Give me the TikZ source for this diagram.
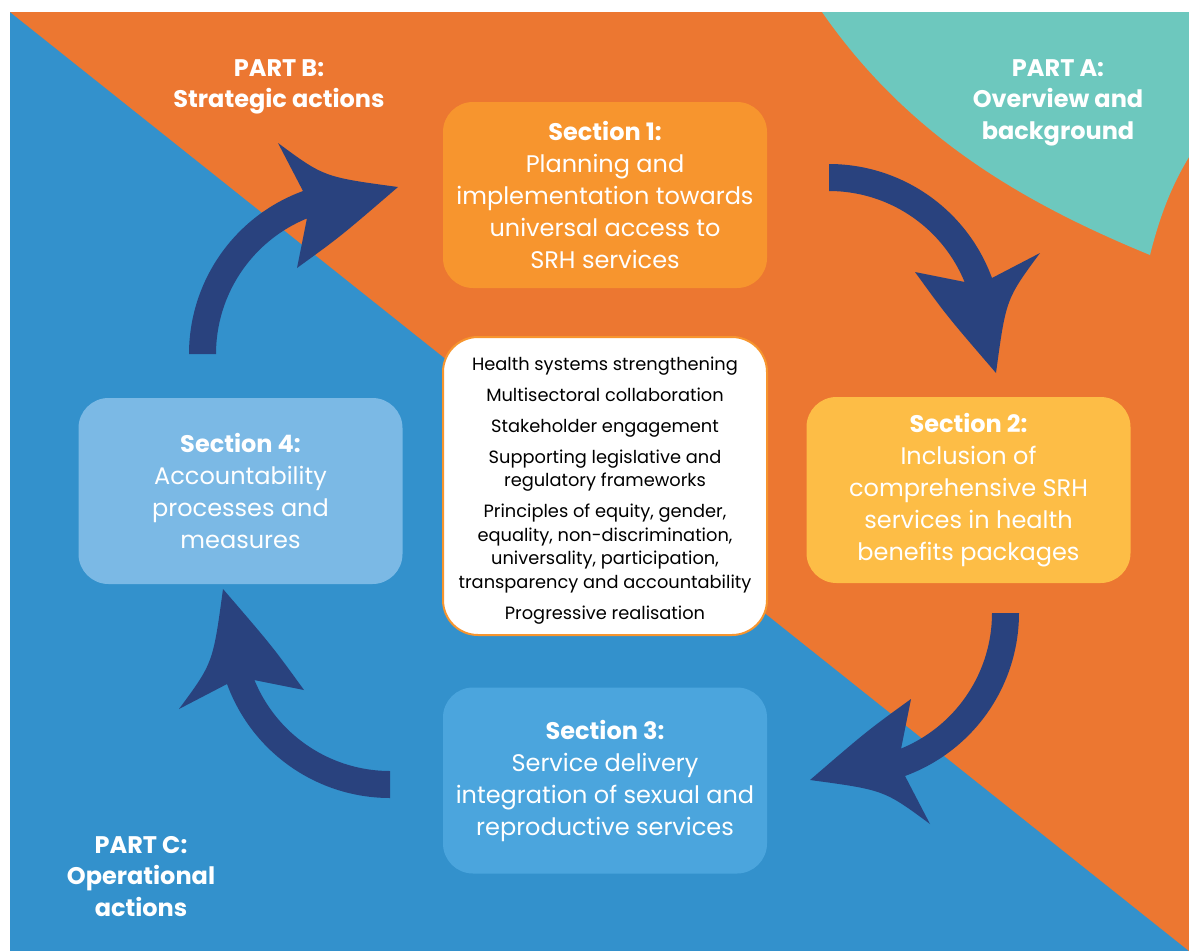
\documentclass[tikz,border=0pt]{standalone}
\usepackage{fontspec}
\setmainfont{Poppins}
\definecolor{bgorange}{HTML}{EC7731}
\definecolor{bgblue}{HTML}{3391CC}
\definecolor{partacol}{HTML}{6DC8BE}
\definecolor{sonecol}{HTML}{F7952E}
\definecolor{stwocol}{HTML}{FDBD46}
\definecolor{sthreecol}{HTML}{4BA5DD}
\definecolor{sfourcol}{HTML}{7BB9E5}
\definecolor{arrowcol}{HTML}{29427E}
\newcommand{\cyclearrow}[2]{%
  \fill[arrowcol, shift={#1}, rotate=#2] (0,0)
    -- plot[domain=-90:-20.06, samples=50] ({173.5*cos(\x)},{173.5+173.5*sin(\x)})
    -- (211,89) .. controls (177,135) .. (167,209)
    .. controls (117.5,151.5) .. (86,108)
    -- (136,118)
    -- plot[domain=-22.2:-90, samples=50] ({146.5*cos(\x)},{173.5+146.5*sin(\x)})
    -- cycle;}
\begin{document}
\begin{tikzpicture}[x=1pt,y=-1pt,
  sectbox/.style={rounded corners=30pt, minimum width=324pt, minimum height=186pt,
    inner sep=0pt, text=white, align=center, font=\fontsize{24}{32}\selectfont},
  corebox/.style={rounded corners=35pt, minimum width=324pt, minimum height=298pt,
    inner sep=0pt, fill=white, draw=sonecol, line width=2pt},
  coretext/.style={inner sep=0pt, text=black, align=center,
    font=\fontsize{17.8}{23.5}\selectfont},
  partlabel/.style={inner sep=0pt, text=white, align=center, anchor=north,
    font=\fontsize{24}{31.5}\selectfont\bfseries}]
\useasboundingbox (0,0) rectangle (1189,951);
\fill[white] (0,0) rectangle (1189,951);
\fill[bgblue] (10,12) rectangle (1189,951);
\fill[bgorange] (10,12) -- (1189,12) -- (1189,951) -- cycle;
\fill[partacol] (822,12) .. controls (907.5,135) and (1021,202) .. (1150,255)
  .. controls (1160,215) and (1172,185) .. (1189,157) -- (1189,12) -- cycle;

\node[partlabel] (pb) at (279,59) {PART B:\\Strategic actions};
\node[partlabel] (pa) at (1058,59) {PART A:\\Overview and\\background};
\node[partlabel] (pc) at (141,836) {PART C:\\Operational\\actions};

\node[sectbox, fill=sonecol] (s1) at (605,195) {\textbf{Section 1:}\\Planning and\\implementation towards\\universal access to\\SRH services};
\node[sectbox, fill=stwocol] (s2) at (968.5,490) {\textbf{Section 2:}\\Inclusion of\\comprehensive SRH\\services in health\\benefits packages};
\node[sectbox, fill=sthreecol] (s3) at (605,780.5) {\textbf{Section 3:}\\Service delivery\\integration of sexual and\\reproductive services};
\node[sectbox, fill=sfourcol] (s4) at (240.5,491) {\textbf{Section 4:}\\Accountability\\processes and\\measures};

\node[corebox] (core) at (605,486) {};
\node[coretext] (coretxt) at (605,490.5) {Health systems strengthening\\[7.5pt]
Multisectoral collaboration\\[7.5pt]
Stakeholder engagement\\[7.5pt]
Supporting legislative and\\regulatory frameworks\\[7.5pt]
Principles of equity, gender,\\equality, non-discrimination,\\universality, participation,\\transparency and accountability\\[7.5pt]
Progressive realisation};

\coordinate (a1) at (829,164);
\coordinate (a2) at (1019,613);
\coordinate (a3) at (390,798);
\coordinate (a4) at (189,354);
\cyclearrow{(a1)}{0}
\cyclearrow{(a2)}{-90}
\cyclearrow{(a3)}{180}
\cyclearrow{(a4)}{90}
\end{tikzpicture}
\end{document}
